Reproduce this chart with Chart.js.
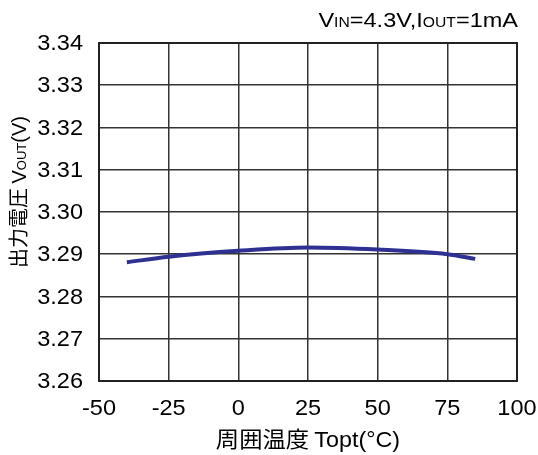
<!DOCTYPE html>
<html>
<head>
<meta charset="utf-8">
<script src="https://cdn.jsdelivr.net/npm/chart.js@4"></script>
<style>
  html, body { margin: 0; padding: 0; background: #fff; }
  #wrap { width: 538px; height: 455px; }
</style>
</head>
<body>
<div id="wrap"><canvas id="chart" width="538" height="455"></canvas></div>
<script>
// temperature (°C) and output voltage (V)
const temps = [-40, -25, 0, 25, 50, 75, 85];
const vout = [3.2881, 3.2894, 3.2908, 3.2916, 3.2911, 3.2900, 3.2889];
const xTicks = [-50, -25, 0, 25, 50, 75, 100];
const yTicks = [3.26, 3.27, 3.28, 3.29, 3.30, 3.31, 3.32, 3.33, 3.34];

const FONT = '"Liberation Sans", Arial, sans-serif';
const CJK = '"Noto Sans CJK JP", "Noto Sans CJK SC", sans-serif';

// draws text pieces with different sizes on one baseline, stretched sideways by sx
function drawRuns(ctx, runs, x, y, align, sx) {
    sx = sx || 1;
    let total = 0;
    runs.forEach(r => { ctx.font = r.font; total += ctx.measureText(r.text).width; });
    let start = align === 'right' ? x - total * sx : (align === 'center' ? x - total * sx / 2 : x);
    ctx.save();
    ctx.translate(start, y);
    ctx.scale(sx, 1);
    let cx = 0;
    runs.forEach(r => {
        ctx.font = r.font;
        ctx.fillText(r.text, cx, 0);
        cx += ctx.measureText(r.text).width;
    });
    ctx.restore();
}

const labelsPlugin = {
    id: 'labels',
    afterDraw(chart) {
        const ctx = chart.ctx;
        const area = chart.chartArea;
        const xs = chart.scales.x, ys = chart.scales.y;

        // plot border
        ctx.save();
        ctx.strokeStyle = '#222';
        ctx.lineWidth = 2;
        ctx.strokeRect(area.left, area.top, area.right - area.left, area.bottom - area.top);
        ctx.restore();

        ctx.save();
        ctx.fillStyle = '#000';
        ctx.textBaseline = 'alphabetic';

        // tick labels placed by the scales
        const tickFont = '22px ' + FONT;
        xs.ticks.forEach(t => {
            drawRuns(ctx, [{ text: String(t.value), font: tickFont }], xs.getPixelForValue(t.value), 415, 'center', 1.07);
        });
        ys.ticks.forEach(t => {
            drawRuns(ctx, [{ text: t.value.toFixed(2), font: tickFont }], 83, ys.getPixelForValue(t.value) + 7, 'right', 1.07);
        });

        // condition text at top right
        drawRuns(ctx, [
            { text: 'V', font: '21px ' + FONT },
            { text: 'IN', font: '14px ' + FONT },
            { text: '=4.3V,I', font: '21px ' + FONT },
            { text: 'OUT', font: '14px ' + FONT },
            { text: '=1mA', font: '21px ' + FONT }
        ], 518, 27, 'right', 1.12);

        // x axis title
        drawRuns(ctx, [
            { text: '周囲温度 ', font: '22px ' + CJK },
            { text: 'Topt(°C)', font: '22px ' + FONT }
        ], 308, 447, 'center', 1.06);

        // y axis title, rotated
        ctx.translate(26, 192);
        ctx.rotate(-Math.PI / 2);
        drawRuns(ctx, [
            { text: '出力電圧 ', font: '20px ' + CJK },
            { text: 'V', font: '20px ' + FONT },
            { text: 'OUT', font: '13px ' + FONT },
            { text: '(V)', font: '20px ' + FONT }
        ], 0, 0, 'center', 1);
        ctx.restore();
    }
};

new Chart(document.getElementById('chart'), {
    type: 'scatter',
    data: {
        datasets: [{
            data: temps.map((t, i) => ({ x: t, y: vout[i] })),
            showLine: true,
            borderColor: '#2e3192',
            borderWidth: 4,
            pointRadius: 0,
            tension: 0.4,
            cubicInterpolationMode: 'monotone'
        }]
    },
    options: {
        responsive: false,
        animation: false,
        layout: { padding: { top: 43, right: 21, left: 0, bottom: 0 } },
        plugins: { legend: { display: false }, tooltip: { enabled: false } },
        scales: {
            x: {
                type: 'linear',
                min: -50, max: 100,
                afterBuildTicks: axis => { axis.ticks = xTicks.map(v => ({ value: v })); },
                afterFit: axis => { axis.height = 74; },
                grid: { color: '#333', lineWidth: 1.5, drawTicks: false },
                border: { display: false },
                ticks: { display: false }
            },
            y: {
                min: 3.26, max: 3.34,
                afterBuildTicks: axis => { axis.ticks = yTicks.map(v => ({ value: v })); },
                afterFit: axis => { axis.width = 99; },
                grid: { color: '#333', lineWidth: 1.5, drawTicks: false },
                border: { display: false },
                ticks: { display: false }
            }
        }
    },
    plugins: [labelsPlugin]
});
</script>
</body>
</html>
